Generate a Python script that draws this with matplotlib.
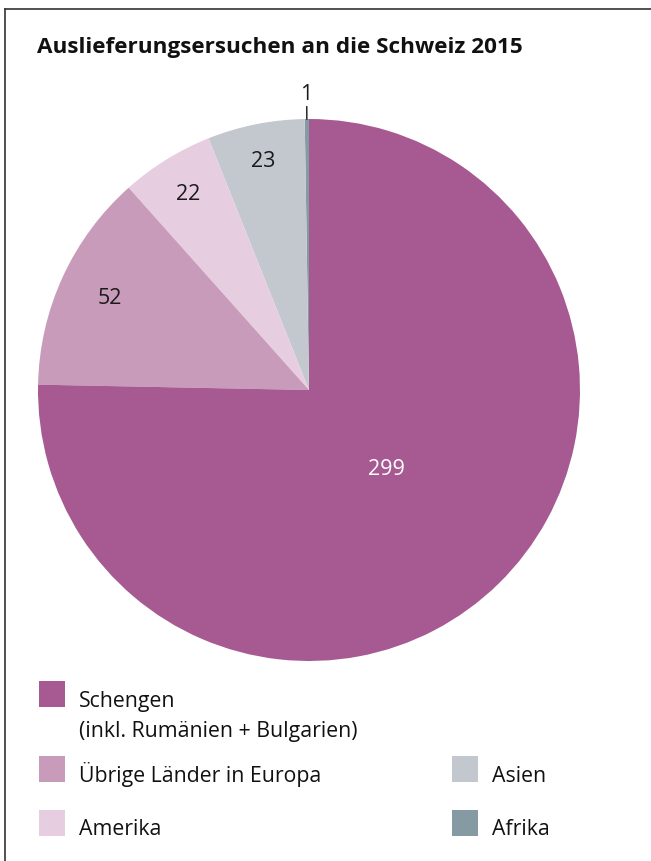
import matplotlib
matplotlib.use("Agg")
import matplotlib.pyplot as plt
from matplotlib.patches import Rectangle
from matplotlib.lines import Line2D
import numpy as np

# Data
categories = ["Afrika", "Asien", "Amerika", "Übrige Länder in Europa",
              "Schengen\n(inkl. Rumänien + Bulgarien)"]
values = [1, 23, 22, 52, 299]
colors = ["#869AA4", "#C2C8CE", "#E6CDE0", "#C99BBA", "#A75A92"]
label_text_colors = ["#1a1a1a", "#1a1a1a", "#1a1a1a", "#1a1a1a", "white"]
label_dist = [1.09, 0.86, 0.85, 0.81, 0.41]
title = "Auslieferungsersuchen an die Schweiz 2015"

plt.rcParams['font.family'] = ['Open Sans', 'DejaVu Sans']

W, H = 651, 861
fig = plt.figure(figsize=(W / 100, H / 100), dpi=100)

def fx(px):
    return px / W

def fy(py):
    return 1 - py / H

# frame lines (top and left)
fig.add_artist(Line2D([fx(5), fx(5)], [fy(9), 0], color="#333333", lw=1.2,
                      transform=fig.transFigure))
fig.add_artist(Line2D([fx(5), 1], [fy(9), fy(9)], color="#333333", lw=1.2,
                      transform=fig.transFigure))

fig.text(fx(37), fy(53), title, fontsize=16.2, fontweight="bold",
         color="#111111", va="baseline", ha="left")

cx, cy, r = 309, 390, 271
ax = fig.add_axes([fx(cx - r), fy(cy + r), 2 * r / W, 2 * r / H])
wedges, _ = ax.pie(values, colors=colors, startangle=90, counterclock=True,
                   radius=1.0, wedgeprops=dict(linewidth=0))
ax.set_xlim(-1, 1)
ax.set_ylim(-1, 1)
ax.set_aspect("auto")
ax.axis("off")

for w, v, d, tc in zip(wedges, values, label_dist, label_text_colors):
    ang = np.deg2rad((w.theta1 + w.theta2) / 2)
    x, y = d * np.cos(ang), d * np.sin(ang)
    ax.text(x, y, str(v), ha="center", va="center", fontsize=15.5, color=tc)
    if d > 1.0:
        ax.plot([np.cos(ang) * 1.0, np.cos(ang) * 1.045],
                [np.sin(ang) * 1.0, np.sin(ang) * 1.045],
                color="#111111", lw=1.0, clip_on=False)

# legend: (index, square x, square top y, text x, baseline y)
legend_items = [
    (4, 39, 681, 79, 707),
    (3, 39, 756, 79, 782),
    (2, 39, 810, 79, 835),
    (1, 452, 756, 492, 782),
    (0, 452, 810, 492, 835),
]
for idx, sx, sy, tx, ty in legend_items:
    fig.add_artist(Rectangle((fx(sx), fy(sy + 26)), 26 / W, 26 / H,
                             transform=fig.transFigure,
                             facecolor=colors[idx], edgecolor="none"))
    for k, line in enumerate(categories[idx].split("\n")):
        fig.text(fx(tx), fy(ty + 30 * k), line, fontsize=15.3,
                 color="#111111", ha="left", va="baseline")

fig.savefig("out.png", dpi=100)
